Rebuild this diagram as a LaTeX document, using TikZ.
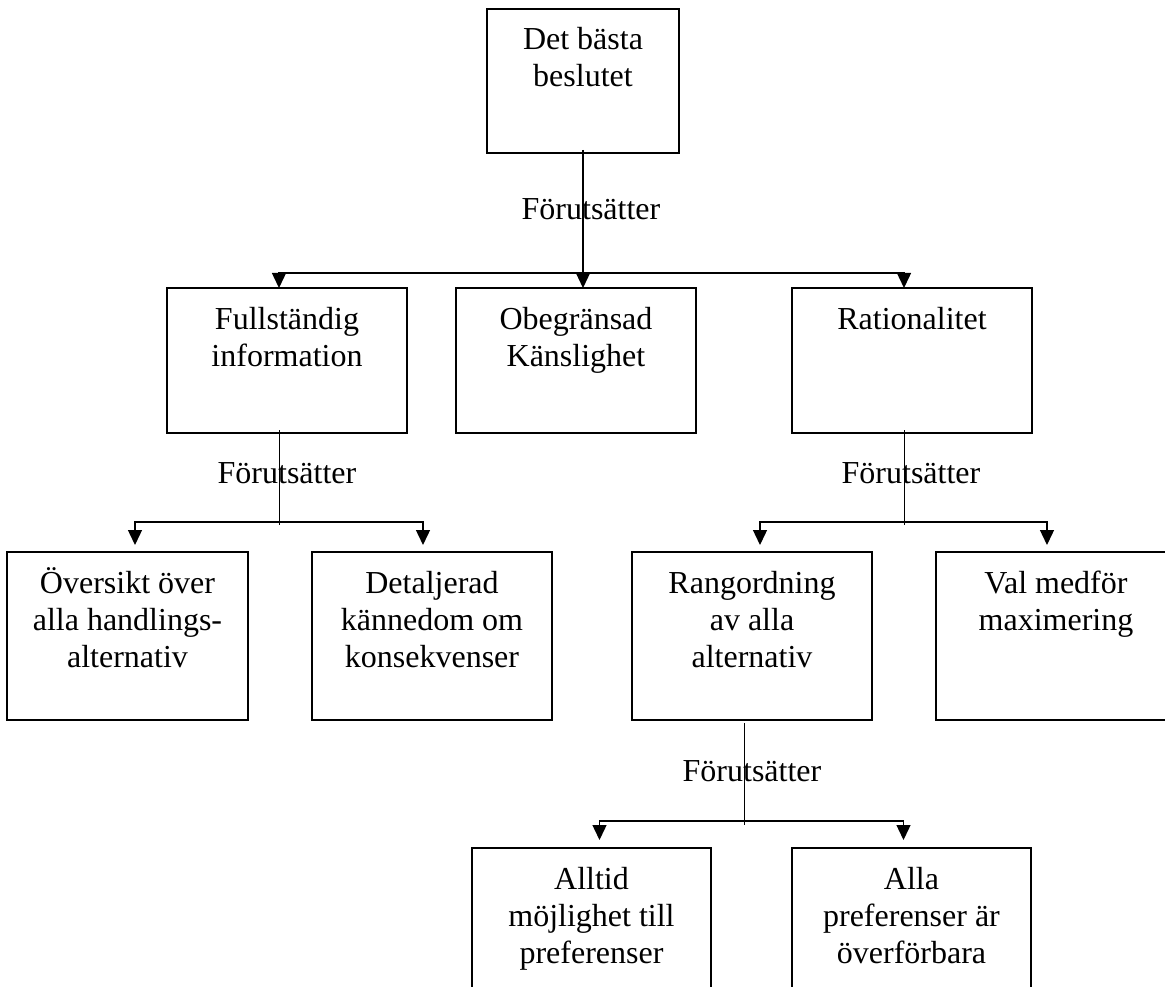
\documentclass[tikz,border=0pt]{standalone}
\usepackage{fontspec}
\setmainfont{Liberation Serif}
\usetikzlibrary{arrows.meta,calc}
\newcommand\bxt[3]{\parbox[c][#2][t]{#1}{\centering\rule{0pt}{41pt}#3\par}}
\begin{document}
\begin{tikzpicture}[x=1pt,y=-1pt,
  box/.style={draw, line width=1.4pt, inner sep=0pt, outer sep=0pt, anchor=north west, font=\fontsize{32}{37}\selectfont},
  lab/.style={font=\fontsize{32}{37}\selectfont, inner sep=0pt},
  bus/.style={line width=1.4pt, -{Triangle[width=14pt,length=15pt]}},
  stem/.style={line width=1pt},
  stemarrow/.style={line width=1.2pt, -{Triangle[width=14pt,length=15pt]}}]
\useasboundingbox (0,0) rectangle (1165,987);
\fill[white] (0,0) rectangle (1165,987);
% row 1
\node[box] (top) at (487,9) {\bxt{192pt}{144pt}{Det bästa\\beslutet}};
% row 2
\node[box] (fi) at (167,288) {\bxt{240pt}{145pt}{Fullständig\\information}};
\node[box] (ob) at (456,288) {\bxt{240pt}{145pt}{Obegränsad\\Känslighet}};
\node[box] (ra) at (792,288) {\bxt{240pt}{145pt}{Rationalitet}};
% row 3
\node[box] (ov) at (7,552) {\bxt{241pt}{168pt}{Översikt över\\alla handlings-\\alternativ}};
\node[box] (de) at (312,552) {\bxt{240pt}{168pt}{Detaljerad\\kännedom om\\konsekvenser}};
\node[box] (ro) at (632,552) {\bxt{240pt}{168pt}{Rangordning\\av alla\\alternativ}};
\node[box] (va) at (936,552) {\bxt{240pt}{168pt}{Val medför\\maximering}};
% row 4
\node[box] (al) at (472,848) {\bxt{239pt}{168pt}{Alltid\\möjlighet till\\preferenser}};
\node[box] (ap) at (792,848) {\bxt{239pt}{168pt}{Alla\\preferenser är\\överförbara}};
% labels
\node[lab, anchor=base] (l1) at (591,220) {Förutsätter};
\node[lab, anchor=base] (l2) at (287,483) {Förutsätter};
\node[lab, anchor=base] (l3) at (911,483) {Förutsätter};
\node[lab, anchor=base] (l4) at (752,781) {Förutsätter};
% level 1 -> 2
\coordinate (j1) at (584,273);
\draw[stemarrow] ([yshift=3pt]top.south) -- (top.south |- ob.north);
\draw[bus] (j1) -| ([xshift=-8pt]fi.north);
\draw[bus] (j1) -| ([xshift=-8pt]ra.north);
% Fullständig -> row 3
\coordinate (j2) at (279,522);
\draw[stem] ([xshift=-8pt,yshift=3pt]fi.south) -- ++(0,95);
\draw[bus] (j2) -| ([xshift=7.5pt,yshift=7pt]ov.north);
\draw[bus] (j2) -| ([xshift=-9pt,yshift=7pt]de.north);
% Rationalitet -> row 3
\coordinate (j3) at (904,522);
\draw[stem] ([xshift=-8pt,yshift=3pt]ra.south) -- ++(0,95);
\draw[bus] (j3) -| ([xshift=8pt,yshift=7pt]ro.north);
\draw[bus] (j3) -| ([xshift=-9pt,yshift=7pt]va.north);
% Rangordning -> row 4
\coordinate (j4) at (744,821);
\draw[stem] ([xshift=-8pt,yshift=-3pt]ro.south) -- ++(0,102);
\draw[bus] (j4) -| ([xshift=8pt,yshift=8pt]al.north);
\draw[bus] (j4) -| ([xshift=-8pt,yshift=8pt]ap.north);
\end{tikzpicture}
\end{document}
